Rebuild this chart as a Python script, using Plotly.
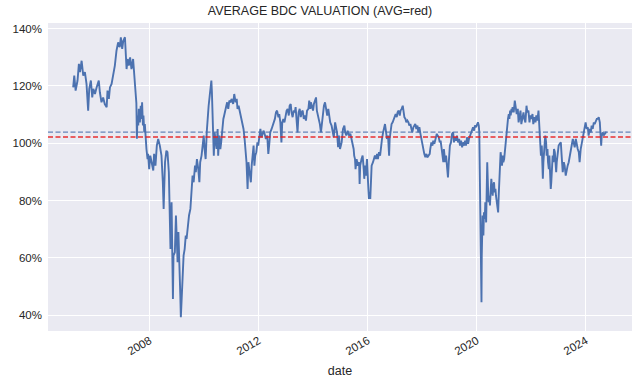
import pandas as pd
import plotly.graph_objects as go

# Decimal-year dates and valuation (% of NAV)
years = [
    2005.19, 2005.23, 2005.28, 2005.35, 2005.40, 2005.44, 2005.50, 2005.56, 2005.62, 2005.68,
    2005.74, 2005.78, 2005.84, 2005.89, 2005.93, 2005.99, 2006.05, 2006.09, 2006.13, 2006.17,
    2006.23, 2006.29, 2006.35, 2006.42, 2006.45, 2006.50, 2006.54, 2006.60, 2006.66, 2006.72,
    2006.78, 2006.84, 2006.90, 2006.94, 2006.99, 2007.03, 2007.09, 2007.12, 2007.15, 2007.19,
    2007.23, 2007.28, 2007.33, 2007.39, 2007.43, 2007.48, 2007.51, 2007.53, 2007.55, 2007.58,
    2007.60, 2007.64, 2007.67, 2007.70, 2007.72, 2007.75, 2007.77, 2007.80, 2007.82, 2007.85,
    2007.88, 2007.92, 2007.94, 2007.98, 2008.02, 2008.07, 2008.13, 2008.16, 2008.21, 2008.26,
    2008.31, 2008.37, 2008.43, 2008.48, 2008.51, 2008.53, 2008.56, 2008.61, 2008.65, 2008.70,
    2008.74, 2008.76, 2008.80, 2008.83, 2008.85, 2008.87, 2008.92, 2008.96, 2008.98, 2009.02,
    2009.05, 2009.08, 2009.12, 2009.14, 2009.17, 2009.20, 2009.24, 2009.28, 2009.32, 2009.35,
    2009.39, 2009.44, 2009.49, 2009.54, 2009.57, 2009.61, 2009.66, 2009.69, 2009.73, 2009.78,
    2009.82, 2009.85, 2009.90, 2009.94, 2009.98, 2010.01, 2010.05, 2010.09, 2010.12, 2010.16,
    2010.20, 2010.23, 2010.26, 2010.28, 2010.31, 2010.33, 2010.35, 2010.38, 2010.42, 2010.45,
    2010.49, 2010.51, 2010.55, 2010.59, 2010.62, 2010.66, 2010.70, 2010.73, 2010.77, 2010.81,
    2010.84, 2010.88, 2010.92, 2010.97, 2011.00, 2011.06, 2011.10, 2011.15, 2011.19, 2011.22,
    2011.26, 2011.31, 2011.35, 2011.40, 2011.44, 2011.48, 2011.52, 2011.55, 2011.59, 2011.62,
    2011.65, 2011.69, 2011.71, 2011.74, 2011.77, 2011.81, 2011.84, 2011.87, 2011.91, 2011.95,
    2011.98, 2012.02, 2012.06, 2012.10, 2012.14, 2012.18, 2012.23, 2012.26, 2012.31, 2012.35,
    2012.39, 2012.42, 2012.47, 2012.51, 2012.54, 2012.59, 2012.63, 2012.67, 2012.72, 2012.75,
    2012.79, 2012.83, 2012.86, 2012.90, 2012.94, 2012.99, 2013.02, 2013.06, 2013.10, 2013.13,
    2013.17, 2013.20, 2013.24, 2013.28, 2013.32, 2013.35, 2013.39, 2013.42, 2013.46, 2013.50,
    2013.54, 2013.57, 2013.61, 2013.65, 2013.69, 2013.73, 2013.77, 2013.82, 2013.85, 2013.89,
    2013.91, 2013.95, 2013.99, 2014.02, 2014.06, 2014.10, 2014.13, 2014.17, 2014.21, 2014.24,
    2014.28, 2014.32, 2014.35, 2014.39, 2014.43, 2014.48, 2014.51, 2014.55, 2014.59, 2014.62,
    2014.67, 2014.71, 2014.75, 2014.80, 2014.83, 2014.87, 2014.91, 2014.94, 2014.98, 2015.04,
    2015.09, 2015.14, 2015.17, 2015.21, 2015.26, 2015.31, 2015.36, 2015.41, 2015.44, 2015.48,
    2015.50, 2015.53, 2015.55, 2015.59, 2015.63, 2015.68, 2015.70, 2015.72, 2015.77, 2015.81,
    2015.85, 2015.87, 2015.90, 2015.93, 2015.97, 2015.99, 2016.02, 2016.04, 2016.07, 2016.09,
    2016.12, 2016.14, 2016.19, 2016.23, 2016.26, 2016.30, 2016.34, 2016.37, 2016.41, 2016.45,
    2016.48, 2016.52, 2016.56, 2016.59, 2016.63, 2016.67, 2016.70, 2016.74, 2016.78, 2016.80,
    2016.84, 2016.87, 2016.91, 2016.95, 2016.98, 2017.02, 2017.06, 2017.09, 2017.13, 2017.17,
    2017.20, 2017.24, 2017.28, 2017.30, 2017.34, 2017.38, 2017.41, 2017.45, 2017.49, 2017.52,
    2017.56, 2017.60, 2017.63, 2017.67, 2017.71, 2017.74, 2017.78, 2017.82, 2017.85, 2017.89,
    2017.93, 2017.96, 2018.00, 2018.04, 2018.07, 2018.11, 2018.15, 2018.18, 2018.22, 2018.27,
    2018.29, 2018.33, 2018.37, 2018.40, 2018.44, 2018.48, 2018.53, 2018.56, 2018.60, 2018.64,
    2018.67, 2018.71, 2018.75, 2018.77, 2018.79, 2018.82, 2018.84, 2018.87, 2018.89, 2018.92,
    2018.94, 2018.97, 2018.99, 2019.01, 2019.05, 2019.09, 2019.13, 2019.16, 2019.20, 2019.24,
    2019.27, 2019.31, 2019.35, 2019.38, 2019.42, 2019.46, 2019.49, 2019.53, 2019.57, 2019.60,
    2019.64, 2019.68, 2019.71, 2019.75, 2019.79, 2019.82, 2019.86, 2019.90, 2019.93, 2019.97,
    2020.01, 2020.04, 2020.07, 2020.09, 2020.10, 2020.12, 2020.13, 2020.14, 2020.15, 2020.17,
    2020.18, 2020.19, 2020.21, 2020.24, 2020.26, 2020.29, 2020.31, 2020.34, 2020.36, 2020.38,
    2020.41, 2020.43, 2020.46, 2020.48, 2020.51, 2020.53, 2020.56, 2020.58, 2020.60, 2020.63,
    2020.65, 2020.68, 2020.70, 2020.73, 2020.75, 2020.78, 2020.80, 2020.82, 2020.85, 2020.87,
    2020.90, 2020.92, 2020.95, 2020.97, 2021.00, 2021.02, 2021.05, 2021.07, 2021.09, 2021.12,
    2021.14, 2021.17, 2021.19, 2021.22, 2021.24, 2021.27, 2021.29, 2021.31, 2021.35, 2021.39,
    2021.42, 2021.46, 2021.50, 2021.53, 2021.57, 2021.60, 2021.63, 2021.67, 2021.71, 2021.74,
    2021.78, 2021.82, 2021.85, 2021.89, 2021.93, 2021.96, 2022.00, 2022.04, 2022.07, 2022.11,
    2022.15, 2022.18, 2022.22, 2022.26, 2022.28, 2022.31, 2022.33, 2022.35, 2022.38, 2022.40,
    2022.42, 2022.44, 2022.46, 2022.49, 2022.51, 2022.54, 2022.56, 2022.59, 2022.61, 2022.64,
    2022.66, 2022.68, 2022.71, 2022.73, 2022.76, 2022.78, 2022.81, 2022.83, 2022.86, 2022.88,
    2022.91, 2022.93, 2022.95, 2022.98, 2023.00, 2023.04, 2023.08, 2023.11, 2023.15, 2023.19,
    2023.22, 2023.26, 2023.30, 2023.33, 2023.37, 2023.41, 2023.44, 2023.48, 2023.52, 2023.55,
    2023.59, 2023.63, 2023.66, 2023.70, 2023.74, 2023.77, 2023.81, 2023.85, 2023.88, 2023.92,
    2023.96, 2023.99, 2024.03, 2024.07, 2024.10, 2024.14, 2024.18, 2024.21, 2024.25, 2024.29,
    2024.32, 2024.36, 2024.40, 2024.43, 2024.47, 2024.51, 2024.53, 2024.56, 2024.58, 2024.62,
    2024.65, 2024.69, 2024.73, 2024.76,
]

valuation = [
    119.5, 123.6, 118.4, 121.9, 127.7, 124.8, 128.8, 123.6, 124.8, 120.7,
    111.4, 119.0, 121.9, 116.0, 119.0, 117.2, 119.5, 121.3, 121.9, 117.8,
    114.3, 116.0, 113.7, 112.6, 118.4, 115.5, 119.5, 120.7, 123.6, 127.1,
    132.3, 135.2, 133.5, 137.0, 132.9, 135.8, 137.0, 131.7, 125.9, 129.4,
    127.1, 130.0, 125.9, 129.4, 125.3, 117.8, 114.0, 101.6, 109.7, 106.2,
    112.0, 107.3, 113.1, 108.5, 114.3, 106.2, 109.7, 103.8, 106.7, 100.9,
    98.0, 94.5, 96.3, 91.0, 95.7, 93.4, 90.5, 96.3, 92.2, 99.2,
    101.5, 99.2, 95.7, 86.4, 77.1, 84.1, 93.4, 97.4, 96.9, 89.9,
    77.1, 63.1, 79.4, 62.0, 45.7, 60.8, 62.0, 74.8, 67.8, 58.5,
    69.0, 53.8, 46.9, 39.3, 46.9, 53.8, 60.8, 63.1, 67.8, 66.6,
    71.3, 74.8, 77.1, 82.9, 88.7, 86.4, 92.2, 89.9, 94.5, 91.0,
    86.4, 93.4, 95.7, 99.2, 102.7, 98.0, 94.5, 103.8, 109.7, 113.1,
    116.6, 120.1, 121.9, 117.8, 109.7, 102.1, 95.7, 103.8, 100.3, 98.0,
    105.0, 95.7, 102.7, 98.0, 100.3, 106.2, 108.5, 109.7, 112.0, 113.1,
    114.3, 112.0, 114.9, 114.3, 115.5, 113.7, 117.2, 114.3, 115.5, 112.0,
    113.1, 110.8, 108.5, 107.3, 105.0, 101.5, 98.0, 93.4, 84.1, 93.4,
    91.0, 87.6, 86.4, 92.2, 94.5, 99.2, 92.2, 95.7, 96.9, 100.3,
    99.2, 102.7, 105.0, 102.1, 103.8, 104.4, 102.7, 101.5, 102.7, 96.3,
    100.3, 103.8, 105.0, 106.2, 107.3, 108.5, 110.8, 111.4, 109.1, 110.2,
    107.3, 100.3, 107.3, 108.5, 107.3, 110.8, 111.4, 112.0, 109.7, 113.1,
    113.7, 110.8, 109.1, 111.4, 110.8, 112.6, 107.3, 103.8, 110.8, 112.0,
    109.1, 110.8, 111.4, 108.5, 109.7, 107.9, 111.4, 112.0, 114.9, 112.0,
    114.3, 112.6, 111.4, 113.7, 114.9, 116.0, 111.4, 109.7, 107.9, 106.7,
    103.8, 107.3, 110.8, 113.1, 114.3, 112.0, 109.7, 112.0, 108.5, 107.3,
    106.2, 103.8, 102.1, 107.3, 105.0, 103.8, 98.6, 102.7, 98.0, 100.3,
    105.0, 106.2, 103.8, 102.7, 104.4, 102.7, 103.3, 101.5, 100.3, 98.0,
    95.7, 94.5, 91.0, 94.5, 92.2, 93.4, 85.8, 92.2, 94.5, 95.7,
    91.0, 87.6, 92.2, 88.7, 94.5, 86.4, 84.1, 80.6, 82.9, 80.6,
    89.9, 92.2, 93.4, 94.5, 95.7, 94.5, 96.3, 94.5, 96.9, 95.7,
    99.2, 101.5, 103.8, 105.0, 106.7, 103.8, 101.5, 102.7, 95.7, 101.5,
    105.0, 106.7, 107.3, 108.5, 109.7, 110.2, 109.1, 110.8, 111.4, 109.7,
    111.4, 112.0, 113.1, 111.4, 109.1, 108.5, 107.3, 107.9, 107.3, 106.2,
    106.7, 105.0, 103.8, 105.6, 106.2, 106.7, 105.0, 106.2, 103.8, 105.6,
    103.3, 101.5, 99.8, 98.0, 96.3, 95.1, 96.3, 95.1, 95.7, 96.3,
    98.0, 100.3, 99.2, 100.9, 99.8, 101.5, 103.3, 102.7, 102.1, 100.3,
    100.9, 98.0, 94.5, 93.4, 98.0, 95.7, 93.4, 95.7, 92.2, 89.9,
    88.1, 93.4, 96.9, 99.2, 100.3, 103.3, 103.8, 100.3, 102.1, 100.9,
    102.7, 100.3, 101.5, 99.2, 100.9, 98.6, 100.3, 99.2, 100.9, 99.2,
    102.1, 99.8, 101.5, 102.7, 103.8, 105.0, 105.6, 104.4, 106.2, 105.6,
    106.7, 107.3, 106.2, 103.8, 95.7, 84.1, 72.4, 60.8, 52.7, 44.5,
    60.8, 70.1, 74.8, 67.8, 75.9, 73.6, 79.4, 72.4, 84.1, 93.4,
    84.1, 79.4, 81.7, 78.3, 84.1, 87.6, 84.1, 81.7, 85.2, 86.4,
    82.9, 84.1, 81.7, 79.4, 77.1, 75.9, 81.7, 88.7, 93.4, 96.9,
    94.5, 92.2, 95.7, 93.4, 94.5, 96.9, 99.2, 102.7, 105.0, 107.3,
    108.5, 110.2, 108.5, 111.4, 109.7, 112.0, 110.8, 112.6, 110.8, 114.9,
    112.0, 110.2, 112.0, 107.3, 109.7, 111.4, 106.7, 109.7, 110.8, 108.5,
    107.3, 113.1, 110.8, 111.4, 107.3, 109.7, 108.5, 110.2, 106.7, 109.1,
    107.3, 109.7, 107.9, 111.4, 107.3, 102.7, 98.0, 95.7, 99.2, 92.2,
    87.6, 93.4, 98.0, 100.3, 102.7, 100.3, 95.7, 98.0, 93.4, 91.0,
    95.7, 87.6, 84.1, 86.4, 93.4, 95.7, 93.4, 98.0, 96.9, 93.4,
    89.9, 93.4, 95.7, 96.9, 99.2, 99.8, 100.3, 95.7, 89.9, 93.4,
    92.2, 88.7, 91.0, 92.2, 93.4, 95.7, 98.0, 100.3, 101.5, 100.3,
    98.6, 101.5, 99.2, 98.0, 96.9, 93.4, 98.0, 100.3, 101.5, 103.8,
    106.2, 107.3, 105.0, 105.6, 102.7, 105.0, 103.8, 106.2, 105.0, 107.3,
    106.7, 107.9, 108.5, 108.5, 109.1, 107.3, 105.0, 99.2, 102.7, 103.8,
    102.7, 103.3, 103.8, 103.8,
]

avg_level = 102.2      # red dashed line (average)
ref_level = 103.9      # blue dashed line

y_ticks = [40, 60, 80, 100, 120, 140]
y_tick_labels = ["40%", "60%", "80%", "100%", "120%", "140%"]
x_ticks = ["2008-01-01", "2012-01-01", "2016-01-01", "2020-01-01", "2024-01-01"]
x_tick_labels = ["2008", "2012", "2016", "2020", "2024"]


def to_date(y):
    yr = int(y)
    start = pd.Timestamp(year=yr, month=1, day=1)
    end = pd.Timestamp(year=yr + 1, month=1, day=1)
    return start + (end - start) * (y - yr)


dates = [to_date(y) for y in years]

fig = go.Figure()
fig.add_trace(go.Scatter(
    x=dates, y=valuation, mode="lines",
    line=dict(color="#4C72B0", width=1.9),
    showlegend=False, hoverinfo="skip",
))

x_range = [to_date(2004.268), to_date(2025.69)]
for lvl, col in [(ref_level, "rgba(76,114,176,0.85)"), (avg_level, "rgba(232,28,28,0.9)")]:
    fig.add_trace(go.Scatter(
        x=x_range, y=[lvl, lvl], mode="lines",
        line=dict(color=col, width=1.4, dash="5px,2.5px"),
        showlegend=False, hoverinfo="skip",
    ))

font_family = "Liberation Sans, Arial, sans-serif"
fig.update_layout(
    width=640, height=386,
    margin=dict(l=48, r=8, t=23, b=55),
    paper_bgcolor="white",
    plot_bgcolor="#EAEAF2",
    font=dict(family=font_family, size=11.5, color="#262626"),
    title=dict(text="AVERAGE BDC VALUATION (AVG=red)", x=0.5, xanchor="center",
               y=0.972, yanchor="middle", font=dict(size=12.5, color="#262626")),
    xaxis=dict(
        range=x_range, tickvals=x_ticks, ticktext=x_tick_labels, tickangle=-30,
        showgrid=True, gridcolor="white", gridwidth=1.2, zeroline=False,
        showline=False, ticks="", tickfont=dict(size=11.5),
        title=dict(text="date", font=dict(size=12.5), standoff=9),
    ),
    yaxis=dict(
        range=[34.5, 141.97], tickvals=y_ticks, ticktext=y_tick_labels,
        showgrid=True, gridcolor="white", gridwidth=1.2, zeroline=False,
        showline=False, ticks="", tickfont=dict(size=11.5), ticklabelstandoff=5,
    ),
)

fig.write_html("out.html", config={"displayModeBar": False},
               post_script="document.body.style.margin='0';")
